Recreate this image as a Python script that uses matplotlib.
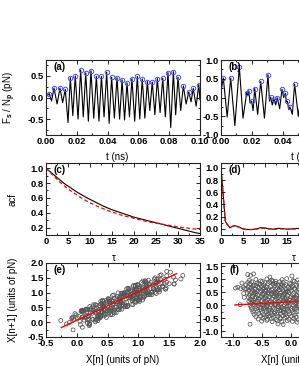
import numpy as np
import matplotlib.pyplot as plt
from matplotlib.ticker import MultipleLocator, FormatStrFormatter

plt.rcParams['font.family'] = ['Liberation Sans', 'DejaVu Sans']
plt.rcParams['font.weight'] = 'bold'
plt.rcParams['font.size'] = 7
plt.rcParams['axes.unicode_minus'] = False
plt.rcParams['mathtext.fontset'] = 'custom'
plt.rcParams['mathtext.rm'] = 'Liberation Sans:bold'
plt.rcParams['mathtext.default'] = 'rm'

# ---- panel (a): force trace, peaks marked
a_peak_t = [0.0021, 0.0052, 0.0091, 0.0125, 0.0158, 0.0190, 0.0225, 0.0258, 0.0292, 0.0327,
            0.0360, 0.0394, 0.0426, 0.0461, 0.0494, 0.0526, 0.0558, 0.0593, 0.0625, 0.0658,
            0.0690, 0.0723, 0.0758, 0.0792, 0.0827, 0.0857, 0.0892, 0.0927, 0.0956, 0.0992]
a_peak_v = [0.09, 0.22, 0.22, 0.19, 0.46, 0.50, 0.64, 0.57, 0.62, 0.49,
            0.49, 0.59, 0.47, 0.46, 0.41, 0.34, 0.44, 0.49, 0.43, 0.37,
            0.36, 0.44, 0.45, 0.58, 0.60, 0.47, 0.27, 0.13, 0.21, 0.30]
a_trough_t = [0.0000, 0.0036, 0.0072, 0.0108, 0.0143, 0.0174, 0.0208, 0.0242, 0.0275, 0.0310,
              0.0344, 0.0377, 0.0410, 0.0444, 0.0478, 0.0510, 0.0542, 0.0576, 0.0609, 0.0642,
              0.0674, 0.0707, 0.0741, 0.0775, 0.0810, 0.0842, 0.0875, 0.0910, 0.0942, 0.0975, 0.1000]
a_trough_v = [0.02, -0.08, -0.15, -0.12, -0.58, -0.42, -0.50, -0.45, -0.55, -0.48,
              -0.55, -0.45, -0.60, -0.48, -0.50, -0.52, -0.45, -0.55, -0.50, -0.48,
              -0.30, -0.40, -0.35, -0.45, -0.70, -0.40, -0.30, -0.15, -0.10, -0.20, -0.05]

# ---- panel (b)
b_peak_t = [0.0015, 0.0063, 0.0119, 0.0167, 0.0180, 0.0199, 0.0219, 0.0258, 0.0305, 0.0323,
            0.0344, 0.0366, 0.0396, 0.0418, 0.0431, 0.0448, 0.0478, 0.0530]
b_peak_v = [0.52, 0.52, 0.82, 0.13, 0.18, -0.10, 0.24, 0.43, 0.61, 0.01,
            -0.04, -0.01, 0.22, 0.11, -0.10, -0.25, 0.36, 0.30]
b_trough_t = [0.0000, 0.0040, 0.0090, 0.0143, 0.0174, 0.0189, 0.0208, 0.0238, 0.0282, 0.0315,
              0.0333, 0.0355, 0.0381, 0.0407, 0.0425, 0.0440, 0.0463, 0.0502, 0.0560]
b_trough_v = [0.17, -0.52, -0.75, -0.55, 0.05, -0.15, -0.35, -0.45, -0.55, -0.10,
              -0.20, -0.20, -0.30, 0.00, -0.12, -0.32, -0.45, -0.50, -0.40]

# ---- panels (c), (d): autocorrelation and fit
c_lag = list(range(36))
c_acf = [1.00, 0.95, 0.90, 0.85, 0.80, 0.76, 0.72, 0.68, 0.645, 0.61, 0.58, 0.55,
         0.52, 0.49, 0.465, 0.44, 0.42, 0.40, 0.38, 0.36, 0.34, 0.325, 0.31, 0.295,
         0.28, 0.265, 0.25, 0.235, 0.22, 0.205, 0.19, 0.175, 0.16, 0.145, 0.13, 0.12]
c_fit = [1.00, 0.94, 0.88, 0.82, 0.77, 0.72, 0.68, 0.64, 0.60, 0.565, 0.535, 0.505,
         0.48, 0.455, 0.43, 0.41, 0.39, 0.37, 0.355, 0.34, 0.325, 0.31, 0.295, 0.28,
         0.27, 0.26, 0.25, 0.24, 0.23, 0.22, 0.21, 0.20, 0.195, 0.185, 0.18, 0.175]
d_lag = list(range(26))
d_acf = [1.00, 0.12, 0.02, 0.055, 0.035, 0.00, -0.01, -0.01, 0.00, 0.02, 0.015, 0.00, -0.005,
         0.01, 0.005, -0.005, 0.00, 0.005, 0.01, 0.00, -0.01, 0.00, 0.005, 0.00, -0.005, 0.00]
d_fit = [1.00, 0.10, 0.03, 0.05, 0.03, 0.00, -0.015, -0.01, -0.005, 0.01, 0.01, 0.00, -0.01,
         0.00, 0.00, -0.01, -0.005, 0.00, 0.005, 0.00, -0.005, 0.00, 0.00, 0.00, 0.00, 0.00]

# ---- panel (e): return map of a series
e_series = [0.30, 0.44, 0.39, 0.62, 0.51, 0.80, 0.78, 0.95, 0.69, 0.77, 0.97, 0.83, 1.15, 1.07, 1.18,
            0.95, 1.00, 1.26, 1.09, 1.11, 1.40, 1.20, 1.34, 1.02, 0.97, 1.08, 0.82, 0.90, 0.73, 0.96,
            0.67, 0.65, 0.79, 0.59, 0.64, 0.32, 0.49, 0.38, 0.15, 0.41, 0.33, 0.19, 0.21, -0.08, 0.12,
            0.07, 0.39, 0.22, 0.33, 0.10, 0.18, 0.44, 0.30, 0.59, 0.61, 0.41, 0.64, 0.69, 0.58, 0.90,
            0.82, 0.99, 0.73, 0.87, 1.07, 1.05, 1.34, 1.17, 1.28, 1.33, 1.10, 1.36, 1.44, 1.12, 1.32,
            1.46, 1.35, 1.58, 1.29, 1.31, 1.14, 1.19, 0.93, 1.01, 0.81, 1.13, 0.99, 0.76, 0.87, 0.82,
            0.53, 0.70, 0.68, 0.42, 0.56, 0.48, 0.16, 0.36, 0.25, 0.30, 0.07, 0.36, 0.19, 0.21, -0.05,
            0.09, 0.17, -0.03, 0.29, 0.34, 0.23, 0.46, 0.44, 0.61, 0.32, 0.58, 0.69, 0.61, 0.81, 0.67,
            0.99, 0.94, 1.08, 0.85, 1.14, 1.16, 0.99, 1.25, 1.14, 1.22, 1.02, 1.07, 0.75, 0.98, 0.84,
            0.82, 0.53, 0.70, 0.44, 0.55, 0.47, 0.27, 0.41, 0.36, 0.13, 0.15, 0.44, 0.27, 0.59, 0.48,
            0.74, 0.66, 0.86, 0.91, 0.77, 1.00, 0.98, 1.27, 1.01, 1.18, 1.29, 0.97, 1.11, 1.06, 1.14,
            0.94, 0.71, 0.73, 0.44, 0.70, 0.53, 0.42, 0.74, 0.60, 0.34, 0.39, 0.19, 0.11, 0.34, 0.05,
            0.03, 0.20, -0.12, -0.01, 0.25, 0.11, 0.40, 0.45, 0.22, 0.42, 0.50, 0.39, 0.71, 0.69, 0.83,
            0.57, 0.74, 0.97, 0.92, 1.21, 1.01, 1.12, 1.38, 1.30, 1.44, 1.12, 1.32, 1.37, 1.60, 1.43,
            1.45, 1.16, 1.42, 1.31, 1.08, 1.16, 1.02, 0.76, 0.93, 0.91, 0.59, 0.70, 0.50, 0.55, 0.26,
            0.40, 0.32, 0.09, 0.35, 0.18, 0.20, 0.09, 0.41, 0.36, 0.56, 0.42, 0.71, 0.79, 0.53, 0.76,
            0.87, 0.85, 1.02, 0.70, 0.84, 1.10, 0.90, 0.95, 1.24, 1.16, 0.93, 1.04, 0.87, 0.89, 0.60,
            0.92, 0.78, 0.52, 0.72, 0.67, 0.44, 0.52, 0.41, 0.58, 0.26, 0.52, 0.32, 0.30, 0.01, 0.15,
            0.20, -0.06, 0.17, 0.09, 0.38, 0.21, 0.53, 0.64, 0.50, 0.70, 0.72, 0.98, 0.93, 1.10, 0.87,
            0.95, 1.24, 1.13, 1.27, 1.50, 1.30, 1.35, 1.09, 1.07, 1.39, 1.22, 0.93, 1.04, 0.96, 0.82,
            1.02, 0.75, 0.55, 0.26, 0.09, -0.17, -0.06, -0.26, 0.06, -0.08, 0.15, 0.44, 0.52, 0.78, 0.92,
            1.24, 1.26, 1.46, 1.57, 1.52, 1.69, 1.46, 1.72, 1.58, 1.29, 1.21]
e_fit_x = [-0.25, 1.62]
e_fit_y = [-0.18, 1.64]

# ---- panel (f): scatter, weak correlation (strips of points)
f_x = [-0.71, -0.60, -0.52, -0.41, -0.33, -0.26, -0.15, -0.07, 0.04, 0.12,
       -0.74, -0.67, -0.58, -0.49, -0.44, -0.36, -0.28, -0.19, -0.13, -0.02, 0.06, 0.15, -0.55, -0.31,
       -0.77, -0.70, -0.63, -0.53, -0.46, -0.39, -0.30, -0.22, -0.16, -0.09, 0.00, 0.09, 0.17, -0.60, -0.25,
       -0.73, -0.65, -0.57, -0.50, -0.42, -0.35, -0.27, -0.18, -0.11, -0.04, 0.03, 0.11, 0.19, -0.46, -0.14, -0.68,
       -0.76, -0.69, -0.61, -0.54, -0.47, -0.38, -0.31, -0.23, -0.16, -0.08, -0.01, 0.07, 0.14, -0.43, -0.20, 0.02,
       -0.72, -0.66, -0.58, -0.51, -0.44, -0.37, -0.29, -0.21, -0.13, -0.06, 0.01, 0.10, 0.18, -0.62, -0.33, -0.09,
       -0.75, -0.68, -0.60, -0.53, -0.45, -0.40, -0.32, -0.24, -0.17, -0.10, -0.03, 0.05, 0.13, -0.49, -0.27, -0.06,
       -0.71, -0.64, -0.57, -0.48, -0.42, -0.34, -0.26, -0.19, -0.12, -0.05, 0.03, 0.11, 0.19, -0.66, -0.37, -0.15,
       -0.73, -0.66, -0.59, -0.51, -0.43, -0.36, -0.29, -0.21, -0.14, -0.07, 0.00, 0.08, 0.16, -0.55, -0.24, 0.04,
       -0.70, -0.62, -0.55, -0.47, -0.40, -0.32, -0.25, -0.17, -0.10, -0.02, 0.06, 0.14, -0.67, -0.44, -0.13, 0.10,
       -0.72, -0.64, -0.57, -0.50, -0.42, -0.35, -0.27, -0.20, -0.12, -0.05, 0.03, 0.11, 0.18, -0.38, -0.08,
       -0.69, -0.61, -0.54, -0.46, -0.39, -0.31, -0.24, -0.16, -0.09, -0.01, 0.07, 0.15, -0.66, -0.28, -0.03,
       -0.70, -0.63, -0.56, -0.48, -0.41, -0.33, -0.26, -0.18, -0.11, -0.03, 0.05, 0.13, -0.52, -0.21, 0.09,
       -0.68, -0.60, -0.52, -0.45, -0.37, -0.30, -0.22, -0.15, -0.07, 0.01, 0.09, 0.17, -0.41, -0.11,
       -0.67, -0.59, -0.51, -0.44, -0.36, -0.28, -0.21, -0.13, -0.06, 0.02, 0.10, -0.47, -0.17, 0.06,
       -0.65, -0.57, -0.49, -0.42, -0.34, -0.27, -0.19, -0.12, -0.04, 0.04, 0.12, -0.38, -0.08,
       -0.63, -0.55, -0.47, -0.39, -0.32, -0.24, -0.17, -0.09, -0.02, 0.06, 0.14, -0.28,
       -0.60, -0.52, -0.45, -0.37, -0.30, -0.22, -0.14, -0.07, 0.01, 0.09, -0.41, -0.18,
       -0.56, -0.48, -0.40, -0.33, -0.25, -0.18, -0.10, -0.03, 0.05, 0.13,
       -0.50, -0.41, -0.32, -0.23, -0.15, -0.06, 0.03, 0.11,
       -0.95, -0.91, -0.86, -0.82, -0.79, -0.87, -0.74, -0.69, -0.64, -0.70, -0.13, -0.81, -0.80,
       -0.84, -0.36, 0.02, -0.22]
f_y = [0.95, 0.99, 0.93, 1.01, 0.96, 0.92, 0.98, 1.02, 0.94, 0.97,
       0.87, 0.90, 0.85, 0.91, 0.86, 0.89, 0.84, 0.90, 0.87, 0.85, 0.92, 0.88, 0.83, 0.92,
       0.79, 0.82, 0.77, 0.81, 0.78, 0.83, 0.80, 0.76, 0.82, 0.79, 0.81, 0.77, 0.80, 0.75, 0.84,
       0.71, 0.74, 0.70, 0.73, 0.69, 0.72, 0.75, 0.70, 0.73, 0.68, 0.74, 0.71, 0.72, 0.67, 0.76, 0.69,
       0.63, 0.65, 0.61, 0.66, 0.62, 0.64, 0.60, 0.66, 0.63, 0.61, 0.65, 0.62, 0.64, 0.59, 0.60, 0.67,
       0.55, 0.58, 0.53, 0.57, 0.54, 0.56, 0.52, 0.58, 0.55, 0.53, 0.57, 0.54, 0.56, 0.51, 0.59, 0.50,
       0.47, 0.49, 0.46, 0.50, 0.45, 0.48, 0.44, 0.50, 0.47, 0.45, 0.49, 0.46, 0.48, 0.43, 0.46, 0.51,
       0.39, 0.42, 0.38, 0.41, 0.37, 0.40, 0.43, 0.38, 0.41, 0.36, 0.40, 0.38, 0.42, 0.35, 0.44, 0.39,
       0.31, 0.34, 0.30, 0.33, 0.29, 0.32, 0.35, 0.30, 0.33, 0.28, 0.32, 0.30, 0.34, 0.27, 0.36, 0.29,
       0.23, 0.26, 0.22, 0.25, 0.21, 0.24, 0.27, 0.22, 0.25, 0.20, 0.24, 0.22, 0.19, 0.28, 0.19, 0.27,
       0.15, 0.18, 0.14, 0.17, 0.13, 0.16, 0.19, 0.14, 0.17, 0.12, 0.16, 0.14, 0.18, 0.11, 0.20,
       0.07, 0.10, 0.06, 0.09, 0.05, 0.08, 0.11, 0.06, 0.09, 0.04, 0.08, 0.06, 0.11, 0.03, 0.12,
       -0.01, 0.02, -0.02, 0.01, -0.03, 0.00, 0.03, -0.02, 0.01, -0.04, 0.00, -0.02, 0.04, -0.05, 0.03,
       -0.09, -0.06, -0.10, -0.07, -0.11, -0.08, -0.05, -0.10, -0.07, -0.12, -0.08, -0.10, -0.04, -0.13,
       -0.17, -0.14, -0.18, -0.15, -0.19, -0.16, -0.13, -0.18, -0.15, -0.20, -0.16, -0.12, -0.21, -0.13,
       -0.26, -0.23, -0.27, -0.24, -0.28, -0.25, -0.22, -0.27, -0.24, -0.29, -0.25, -0.21, -0.30,
       -0.35, -0.32, -0.36, -0.33, -0.37, -0.34, -0.31, -0.36, -0.33, -0.38, -0.34, -0.30,
       -0.44, -0.41, -0.45, -0.42, -0.46, -0.43, -0.40, -0.45, -0.42, -0.47, -0.39, -0.48,
       -0.53, -0.50, -0.54, -0.51, -0.55, -0.52, -0.49, -0.54, -0.51, -0.56,
       -0.61, -0.58, -0.63, -0.60, -0.64, -0.59, -0.62, -0.65,
       0.66, 0.69, 0.64, 0.68, 0.63, 0.02, 1.18, 1.15, 1.20, -0.73, -0.74, 0.45, 0.30,
       0.85, 1.08, 1.12, -0.72]
f_fit_x = [-0.96, 1.00]
f_fit_y = [0.01, 0.26]

W, H = 299, 366
fig = plt.figure(figsize=(W / 100, H / 100), dpi=100)


def add_ax(left, top, right, bottom):
    return fig.add_axes([left / W, 1 - bottom / H, (right - left) / W, (bottom - top) / H])


def style(ax, xmaj, ymaj, xfmt, yfmt):
    ax.xaxis.set_major_locator(MultipleLocator(xmaj))
    ax.xaxis.set_minor_locator(MultipleLocator(xmaj / 2))
    ax.yaxis.set_major_locator(MultipleLocator(ymaj))
    ax.yaxis.set_minor_locator(MultipleLocator(ymaj / 2))
    ax.xaxis.set_major_formatter(FormatStrFormatter(xfmt))
    ax.yaxis.set_major_formatter(FormatStrFormatter(yfmt))
    ax.tick_params(which='both', direction='in', top=True, right=True, width=0.7,
                   labelsize=6.8, pad=1.5, color='#222222')
    ax.tick_params(which='major', length=2.8)
    ax.tick_params(which='minor', length=1.5)
    for s in ax.spines.values():
        s.set_linewidth(0.8)
        s.set_color('#222222')


def trace(ax, pt, pv, tt, tv):
    t = np.array(pt + tt)
    v = np.array(pv + tv)
    order = np.argsort(t)
    ax.plot(t[order], v[order], color='black', lw=0.8)
    ax.plot(pt, pv, 'o', ms=3.2, mfc='none', mec='#4a4aff', mew=0.7)


ax_a = add_ax(46, 60, 200, 135)
ax_b = add_ax(221, 60, 375, 135)
ax_c = add_ax(46, 163, 200, 235)
ax_d = add_ax(221, 163, 375, 235)
ax_e = add_ax(46, 263, 200, 337)
ax_f = add_ax(221, 263, 375, 337)

ylab_x = -0.185

trace(ax_a, a_peak_t, a_peak_v, a_trough_t, a_trough_v)
ax_a.set_xlim(0, 0.1)
ax_a.set_ylim(-0.87, 0.87)
style(ax_a, 0.02, 0.5, '%.2f', '%.1f')
ax_a.set_ylabel(r'F$_s$ / N$_p$ (pN)')
ax_a.yaxis.set_label_coords(ylab_x, 0.5)
ax_a.set_xlabel('t (ns)')
ax_a.xaxis.set_label_coords(0.46, -0.23)

trace(ax_b, b_peak_t, b_peak_v, b_trough_t, b_trough_v)
ax_b.set_xlim(0, 0.1)
ax_b.set_ylim(-1.0, 1.0)
style(ax_b, 0.02, 0.5, '%.2f', '%.1f')
ax_b.set_xlabel('t (ns)')
ax_b.xaxis.set_label_coords(0.53, -0.23)

ax_c.plot(c_lag, c_acf, color='black', lw=0.8)
ax_c.plot(c_lag, c_fit, color='red', lw=0.9, ls=(0, (3, 2)))
ax_c.set_xlim(0, 35)
ax_c.set_ylim(0.1, 1.07)
style(ax_c, 5, 0.2, '%d', '%.1f')
ax_c.set_ylabel('acf')
ax_c.yaxis.set_label_coords(ylab_x, 0.5)
ax_c.set_xlabel('τ')
ax_c.xaxis.set_label_coords(0.44, -0.25)

ax_d.plot(d_lag, d_acf, color='black', lw=0.8)
ax_d.plot(d_lag, d_fit, color='red', lw=0.9, ls=(0, (3, 2)))
ax_d.set_xlim(0, 35)
ax_d.set_ylim(-0.1, 1.08)
style(ax_d, 5, 0.2, '%d', '%.1f')
ax_d.set_xlabel('τ')
ax_d.xaxis.set_label_coords(0.47, -0.25)

ax_e.scatter(e_series[:-1], e_series[1:], s=8, facecolors='none', edgecolors='#555555', linewidths=0.55)
ax_e.plot(e_fit_x, e_fit_y, color='red', lw=1.0)
ax_e.set_xlim(-0.5, 2.0)
ax_e.set_ylim(-0.5, 2.0)
style(ax_e, 0.5, 0.5, '%.1f', '%.1f')
ax_e.set_ylabel('X[n+1] (units of pN)')
ax_e.yaxis.set_label_coords(ylab_x, 0.5)
ax_e.set_xlabel('X[n] (units of pN)')
ax_e.xaxis.set_label_coords(0.5, -0.24)

ax_f.scatter(f_x, f_y, s=8, facecolors='none', edgecolors='#555555', linewidths=0.55)
ax_f.plot(f_fit_x, f_fit_y, color='red', lw=1.0)
ax_f.set_xlim(-1.2, 1.45)
ax_f.set_ylim(-1.22, 1.62)
style(ax_f, 0.5, 0.5, '%.1f', '%.1f')
ax_f.set_xlabel('X[n] (units of pN)')
ax_f.xaxis.set_label_coords(0.5, -0.24)

for ax, lab in zip([ax_a, ax_b, ax_c, ax_d, ax_e, ax_f], ['(a)', '(b)', '(c)', '(d)', '(e)', '(f)']):
    ax.text(0.09, 0.9, lab, transform=ax.transAxes, ha='center', va='center', fontsize=7)

fig.savefig('out.png', dpi=100)
